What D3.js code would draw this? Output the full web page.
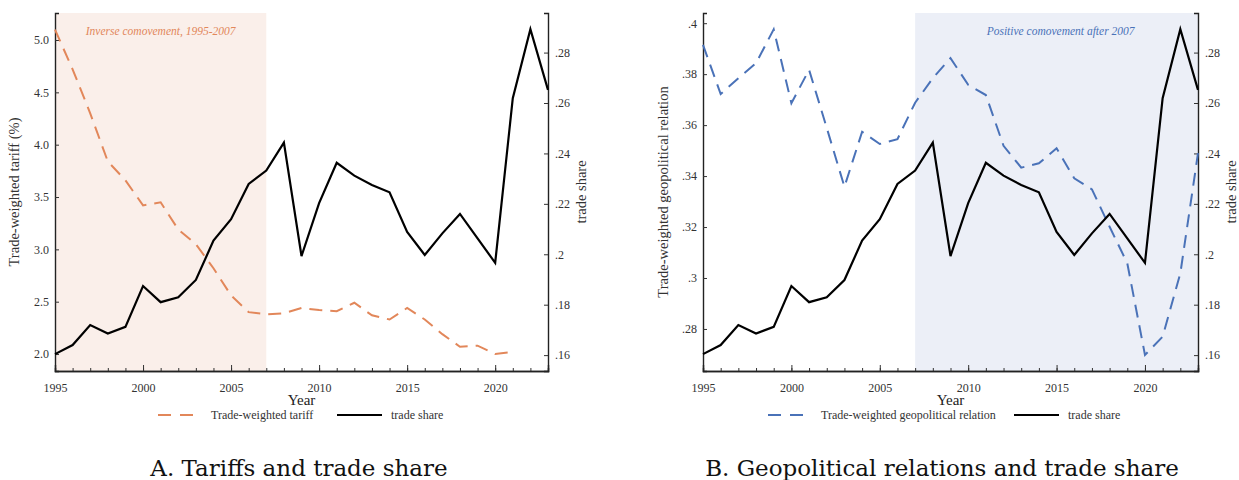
<!DOCTYPE html>
<html>
<head>
<meta charset="utf-8">
<script src="https://cdn.jsdelivr.net/npm/d3@7"></script>
<style>
  body { margin: 0; background: #fff; }
  svg text { font-family: "Liberation Serif", "Times New Roman", serif; }
</style>
</head>
<body>
<div id="chart"></div>
<script>
// years and series
var years = [1995,1996,1997,1998,1999,2000,2001,2002,2003,2004,2005,2006,2007,2008,2009,
  2010,2011,2012,2013,2014,2015,2016,2017,2018,2019,2020,2021,2022,2023];
var tradeShare = [.1604,.164,.1719,.1686,.1712,.1874,.181,.1829,.1898,.2054,.2139,.2279,.2332,.2443,.1993,
  .2203,.2363,.2312,.2275,.2246,.2089,.1997,.2083,.216,.2063,.1966,.2619,.2893,.2652];
var tariffYears = years.slice(0, 27); // tariff stops at 2021
var tariff = [5.10,4.72,4.30,3.84,3.66,3.42,3.45,3.19,3.05,2.82,2.56,2.40,2.38,2.39,2.44,
  2.42,2.41,2.49,2.37,2.33,2.44,2.33,2.19,2.07,2.08,2.00,2.02];
var geoRelation = [.3915,.3722,.3784,.3843,.3976,.3686,.3817,.3589,.3358,.3574,.3526,.3545,.3688,.3784,.3863,
  .3758,.3718,.3519,.3433,.345,.3509,.3391,.3348,.3201,.3058,.2698,.277,.3018,.349];

var xTicks = [1995, 2000, 2005, 2010, 2015, 2020];
var tariffTicks = [2.0, 2.5, 3.0, 3.5, 4.0, 4.5, 5.0];
var geoTicks = [.28, .30, .32, .34, .36, .38, .40];
var shareTicks = [.16, .18, .20, .22, .24, .26, .28];

var W = 1239, H = 480;
var svg = d3.select('#chart').append('svg')
  .attr('width', W).attr('height', H);

var fmtDot = function (d) { return d3.format('.2~f')(d).replace(/^0/, ''); };

function drawPanel(p) {
  var x = d3.scaleLinear().domain([1995, 2023]).range([p.left, p.right]);
  var yL = d3.scaleLinear().domain(p.yLDomain).range([371, 13]);
  var yR = d3.scaleLinear().domain([.1537, .2957]).range([371, 13]);
  var g = svg.append('g');

  // shaded period
  g.append('rect')
    .attr('x', x(p.shade[0])).attr('y', 13)
    .attr('width', x(p.shade[1]) - x(p.shade[0])).attr('height', 371 - 13)
    .attr('fill', p.shadeColor);

  g.append('text')
    .attr('x', (x(p.shade[0]) + x(p.shade[1])) / 2 + p.noteDx).attr('y', 35)
    .attr('text-anchor', 'middle')
    .style('font-style', 'italic').style('font-size', '11.5px')
    .attr('fill', p.color)
    .text(p.note);

  // axes, ticks pointing inwards
  var xAxis = g.append('g').attr('transform', 'translate(0,371)')
    .call(d3.axisBottom(x).tickValues(d3.range(1995, 2024)).tickSize(-3).tickFormat(''));
  var xMajor = g.append('g').attr('transform', 'translate(0,371)')
    .call(d3.axisBottom(x).tickValues(xTicks).tickSize(-6).tickPadding(12).tickFormat(d3.format('d')));
  var left = g.append('g').attr('transform', 'translate(' + p.left + ',0)')
    .call(d3.axisLeft(yL).tickValues(p.yLTicks).tickSize(-4).tickPadding(6).tickFormat(p.yLFormat));
  var right = g.append('g').attr('transform', 'translate(' + p.right + ',0)')
    .call(d3.axisRight(yR).tickValues(shareTicks).tickSize(-4).tickPadding(7).tickFormat(fmtDot));

  [xAxis, xMajor, left, right].forEach(function (a) {
    a.select('.domain').attr('stroke', '#222').attr('stroke-width', 1.4);
    a.selectAll('.tick line').attr('stroke', '#333').attr('stroke-width', 1);
    a.selectAll('.tick text').attr('fill', '#333').style('font-size', '12px')
      .style('font-family', '"Liberation Serif", serif');
  });

  // series
  var lineL = d3.line().x(function (d) { return x(d[0]); }).y(function (d) { return yL(d[1]); });
  var lineR = d3.line().x(function (d) { return x(d[0]); }).y(function (d) { return yR(d[1]); });

  g.append('path')
    .datum(d3.zip(p.lYears, p.lValues))
    .attr('d', lineL)
    .attr('fill', 'none').attr('stroke', p.color).attr('stroke-width', 2)
    .attr('stroke-dasharray', '13 8');

  g.append('path')
    .datum(d3.zip(years, tradeShare))
    .attr('d', lineR)
    .attr('fill', 'none').attr('stroke', '#000').attr('stroke-width', 2.2)
    .attr('stroke-linejoin', 'miter');

  // axis titles
  var mid = (13 + 371) / 2;
  g.append('text')
    .attr('transform', 'translate(' + p.yTitleX + ',' + mid + ') rotate(-90)')
    .attr('text-anchor', 'middle').style('font-size', '14.5px').attr('fill', '#333')
    .text(p.yTitle);
  g.append('text')
    .attr('transform', 'translate(' + (p.right + 38) + ',' + mid + ') rotate(-90)')
    .attr('text-anchor', 'middle').style('font-size', '14.5px').attr('fill', '#333')
    .text('trade share');
  g.append('text')
    .attr('x', (p.left + p.right) / 2).attr('y', 405)
    .attr('text-anchor', 'middle').style('font-size', '15px').attr('fill', '#222')
    .text('Year');

  // legend
  var lg = g.append('g').attr('transform', 'translate(0,415)');
  lg.append('line').attr('x1', p.legX).attr('x2', p.legX + 37)
    .attr('stroke', p.color).attr('stroke-width', 2).attr('stroke-dasharray', '13 9');
  lg.append('text').attr('x', p.legX + 53).attr('y', 4)
    .style('font-size', '12px').attr('fill', '#333').text(p.legLabel);
  lg.append('line').attr('x1', p.legX2).attr('x2', p.legX2 + 45)
    .attr('stroke', '#000').attr('stroke-width', 2.2);
  lg.append('text').attr('x', p.legX2 + 54).attr('y', 4)
    .style('font-size', '12px').attr('fill', '#333').text('trade share');

  // panel title
  g.append('text')
    .attr('x', p.titleX).attr('y', 476)
    .attr('text-anchor', 'middle')
    .style('font-family', '"DejaVu Serif", serif').style('font-size', '23px').attr('fill', '#111')
    .text(p.title);
}

drawPanel({
  left: 55, right: 548,
  yLDomain: [1.838, 5.258], yLTicks: tariffTicks, yLFormat: d3.format('.1f'),
  shade: [1995, 2007], shadeColor: '#faefea', noteDx: 0,
  color: '#e2875a', note: 'Inverse comovement, 1995-2007',
  lYears: tariffYears, lValues: tariff,
  yTitle: 'Trade-weighted tariff (%)', yTitleX: 19,
  legX: 158, legX2: 337, legLabel: 'Trade-weighted tariff',
  title: 'A. Tariffs and trade share', titleX: 299
});

drawPanel({
  left: 703, right: 1198,
  yLDomain: [.2635, .4040], yLTicks: geoTicks, yLFormat: fmtDot,
  shade: [2007, 2023], shadeColor: '#eceff7', noteDx: 4,
  color: '#4a72b8', note: 'Positive comovement after 2007',
  lYears: years, lValues: geoRelation,
  yTitle: 'Trade-weighted geopolitical relation', yTitleX: 668,
  legX: 768, legX2: 1014, legLabel: 'Trade-weighted geopolitical relation',
  title: 'B. Geopolitical relations and trade share', titleX: 942
});
</script>
</body>
</html>
